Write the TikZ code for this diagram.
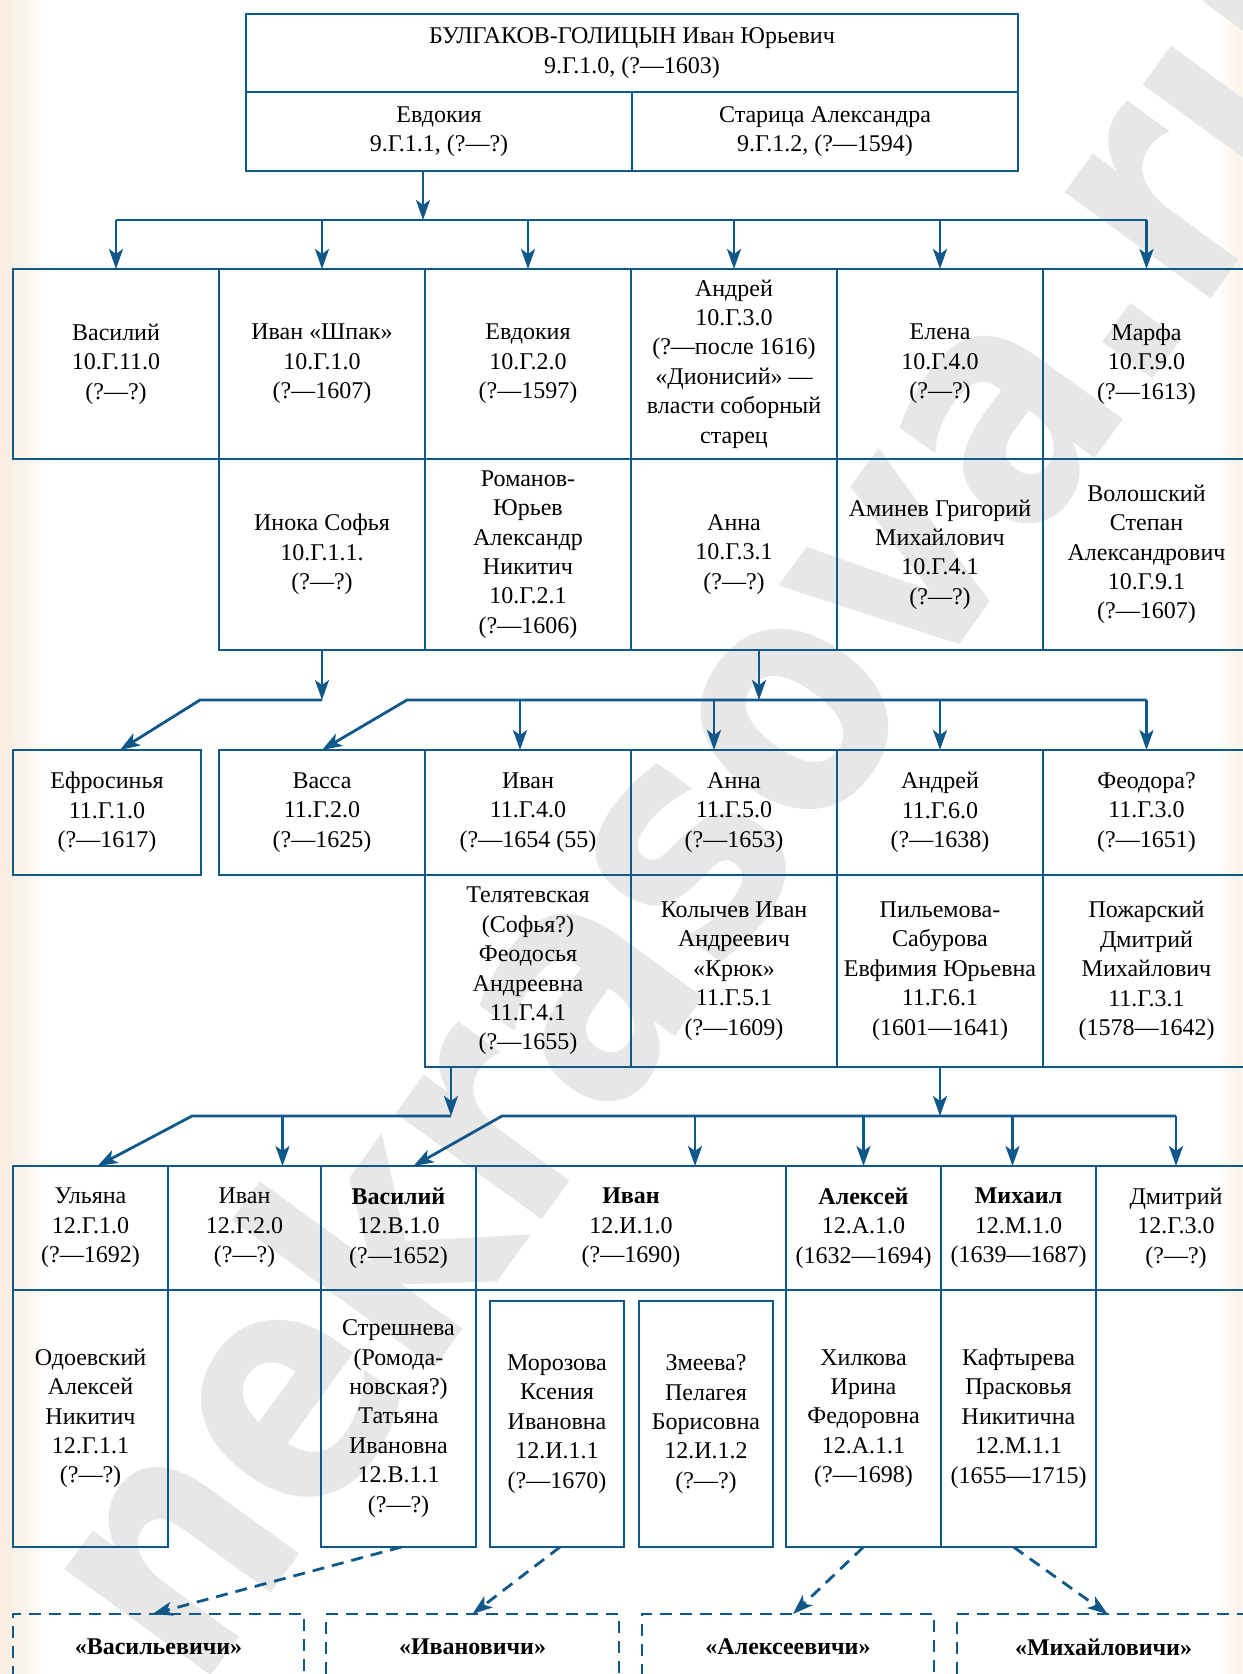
\documentclass[tikz,border=0pt]{standalone}
\usepackage{fontspec}
\setmainfont{Liberation Serif}
\newfontfamily\wmfont{DejaVu Sans}
\usetikzlibrary{arrows.meta,calc}
\definecolor{lblue}{RGB}{16,88,138}
\definecolor{beige}{RGB}{250,236,222}
\definecolor{wmgray}{RGB}{231,231,231}
\def\mkcell#1#2#3#4#5#6#7{\node[#1,minimum width={(#5-#3)*0.5pt},minimum height={(#6-#4)*0.5pt}] (#2) at ({(#3+#5)/2},{(#4+#6)/2}) {#7};}
\begin{document}
\begin{tikzpicture}[x=0.5pt,y=-0.5pt,
  ln/.style={draw=lblue,line width=1.4pt},
  arr/.style={ln,-{Stealth[length=10pt,width=7pt,inset=2.5pt]}},
  darr/.style={arr,dash pattern=on 6pt off 4pt},
  cell/.style={ln,rectangle,inner sep=0pt,outer sep=0pt,align=center,font=\fontsize{12}{14.7}\selectfont},
  dcell/.style={cell,dash pattern=on 6pt off 4pt,font=\fontsize{12}{14.7}\selectfont\bfseries},
]
\useasboundingbox (0,0) rectangle (1242,1674);
\fill[white] (0,0) rectangle (1242,1674);
\shade[left color=beige,right color=white] (0,0) rectangle (50,1674);
\shade[left color=white,right color=beige!70] (1215,0) rectangle (1242,1674);
\node[rotate=54,xscale=0.83,text=wmgray,font=\wmfont\bfseries\fontsize{165}{165}\selectfont,inner sep=0pt] (wm) at (695,800) {nekrasova.ru};

% generation 9
\mkcell{cell}{root}{246}{14}{1018}{92}{БУЛГАКОВ-ГОЛИЦЫН Иван Юрьевич\\9.Г.1.0, (?—1603)}
\mkcell{cell}{evd9}{246}{92}{632}{171}{Евдокия\\9.Г.1.1, (?—?)}
\mkcell{cell}{alx9}{632}{92}{1018}{171}{Старица Александра\\9.Г.1.2, (?—1594)}

% generation 10
\mkcell{cell}{g10a}{13}{269}{219}{459}{Василий\\10.Г.11.0\\(?—?)}
\mkcell{cell}{g10b}{219}{269}{425}{459}{Иван «Шпак»\\10.Г.1.0\\(?—1607)}
\mkcell{cell}{g10c}{425}{269}{631}{459}{Евдокия\\10.Г.2.0\\(?—1597)}
\mkcell{cell}{g10d}{631}{269}{837}{459}{Андрей\\10.Г.3.0\\(?—после 1616)\\«Дионисий» —\\власти соборный\\старец}
\mkcell{cell}{g10e}{837}{269}{1043}{459}{Елена\\10.Г.4.0\\(?—?)}
\mkcell{cell}{g10f}{1043}{269}{1250}{459}{Марфа\\10.Г.9.0\\(?—1613)}
\mkcell{cell}{s10b}{219}{459}{425}{650}{Инока Софья\\10.Г.1.1.\\(?—?)}
\mkcell{cell}{s10c}{425}{459}{631}{650}{Романов-\\Юрьев\\Александр\\Никитич\\10.Г.2.1\\(?—1606)}
\mkcell{cell}{s10d}{631}{459}{837}{650}{Анна\\10.Г.3.1\\(?—?)}
\mkcell{cell}{s10e}{837}{459}{1043}{650}{Аминев Григорий\\Михайлович\\10.Г.4.1\\(?—?)}
\mkcell{cell}{s10f}{1043}{459}{1250}{650}{Волошский\\Степан\\Александрович\\10.Г.9.1\\(?—1607)}

% generation 11
\mkcell{cell}{g11a}{13}{750}{201}{875}{Ефросинья\\11.Г.1.0\\(?—1617)}
\mkcell{cell}{g11b}{219}{750}{425}{875}{Васса\\11.Г.2.0\\(?—1625)}
\mkcell{cell}{g11c}{425}{750}{631}{875}{Иван\\11.Г.4.0\\(?—1654 (55)}
\mkcell{cell}{g11d}{631}{750}{837}{875}{Анна\\11.Г.5.0\\(?—1653)}
\mkcell{cell}{g11e}{837}{750}{1043}{875}{Андрей\\11.Г.6.0\\(?—1638)}
\mkcell{cell}{g11f}{1043}{750}{1250}{875}{Феодора?\\11.Г.3.0\\(?—1651)}
\mkcell{cell}{s11c}{425}{875}{631}{1067}{Телятевская\\(Софья?)\\Феодосья\\Андреевна\\11.Г.4.1\\(?—1655)}
\mkcell{cell}{s11d}{631}{875}{837}{1067}{Колычев Иван\\Андреевич\\«Крюк»\\11.Г.5.1\\(?—1609)}
\mkcell{cell}{s11e}{837}{875}{1043}{1067}{Пильемова-\\Сабурова\\Евфимия Юрьевна\\11.Г.6.1\\(1601—1641)}
\mkcell{cell}{s11f}{1043}{875}{1250}{1067}{Пожарский\\Дмитрий\\Михайлович\\11.Г.3.1\\(1578—1642)}

% generation 12
\mkcell{cell}{g12a}{13}{1166}{168}{1290}{Ульяна\\12.Г.1.0\\(?—1692)}
\mkcell{cell}{g12b}{168}{1166}{321}{1290}{Иван\\12.Г.2.0\\(?—?)}
\mkcell{cell}{g12c}{321}{1166}{476}{1290}{\textbf{Василий}\\12.В.1.0\\(?—1652)}
\mkcell{cell}{g12d}{476}{1166}{786}{1290}{\textbf{Иван}\\12.И.1.0\\(?—1690)}
\mkcell{cell}{g12e}{786}{1166}{941}{1290}{\textbf{Алексей}\\12.А.1.0\\(1632—1694)}
\mkcell{cell}{g12f}{941}{1166}{1096}{1290}{\textbf{Михаил}\\12.М.1.0\\(1639—1687)}
\mkcell{cell}{g12g}{1096}{1166}{1256}{1290}{Дмитрий\\12.Г.3.0\\(?—?)}
\mkcell{cell}{s12a}{13}{1290}{168}{1547}{Одоевский\\Алексей\\Никитич\\12.Г.1.1\\(?—?)}
\mkcell{cell}{s12c}{321}{1290}{476}{1547}{Стрешнева\\(Ромода-\\новская?)\\Татьяна\\Ивановна\\12.В.1.1\\(?—?)}
\mkcell{cell}{s12d1}{490}{1301}{624}{1547}{Морозова\\Ксения\\Ивановна\\12.И.1.1\\(?—1670)}
\mkcell{cell}{s12d2}{639}{1301}{773}{1547}{Змеева?\\Пелагея\\Борисовна\\12.И.1.2\\(?—?)}
\mkcell{cell}{s12e}{786}{1290}{941}{1547}{Хилкова\\Ирина\\Федоровна\\12.А.1.1\\(?—1698)}
\mkcell{cell}{s12f}{941}{1290}{1096}{1547}{Кафтырева\\Прасковья\\Никитична\\12.М.1.1\\(1655—1715)}

% branches
\mkcell{dcell}{d1}{13}{1614}{304}{1680}{«Васильевичи»}
\mkcell{dcell}{d2}{326}{1614}{619}{1680}{«Ивановичи»}
\mkcell{dcell}{d3}{642}{1614}{934}{1680}{«Алексеевичи»}
\mkcell{dcell}{d4}{957}{1614}{1250}{1680}{«Михайловичи»}

% connectors 9 -> 10
\coordinate (b1) at (423,220);
\draw[arr] (evd9.south -| b1) -- (b1);
\draw[ln] (g10a.north |- b1) -- (g10f.north |- b1);
\foreach \n in {g10a,g10b,g10c,g10d,g10e,g10f} \draw[arr] (\n.north |- b1) -- (\n.north);

% connectors 10 -> 11
\coordinate (k1) at (200,700);
\draw[arr] (s10b.south) -- (s10b.south |- k1);
\draw[arr] (s10b.south |- k1) -- (k1) -- ($(g11a.north)+(13,0)$);
\coordinate (k2) at (759,700);
\coordinate (k3) at (407,700);
\draw[arr] (s10d.south -| k2) -- (k2);
\draw[arr] (g11f.north |- k3) -- (k3) -- (g11b.north);
\coordinate (a11c) at ($(g11c.north)+(-8,0)$);
\coordinate (a11d) at ($(g11d.north)+(-20,0)$);
\draw[arr] (a11c |- k3) -- (a11c);
\draw[arr] (a11d |- k3) -- (a11d);
\draw[arr] (g11e.north |- k3) -- (g11e.north);
\draw[arr] (g11f.north |- k3) -- (g11f.north);

% connectors 11 -> 12
\coordinate (k4) at (451,1116);
\coordinate (k5) at (192,1116);
\draw[arr] (s11c.south -| k4) -- (k4);
\draw[arr] (k4) -- (k5) -- ($(g12a.north)+(7,0)$);
\coordinate (a12b) at ($(g12b.north)+(38,0)$);
\draw[arr] (a12b |- k4) -- (a12b);
\coordinate (k6) at (502,1116);
\draw[arr] (s11e.south) -- (s11e.south |- k6);
\draw[arr] (g12g.north |- k6) -- (k6) -- ($(g12c.north)+(15,0)$);
\coordinate (a12d) at ($(g12d.north)+(64,0)$);
\coordinate (a12f) at ($(g12f.north)+(-6,0)$);
\draw[arr] (a12d |- k6) -- (a12d);
\draw[arr] (g12e.north |- k6) -- (g12e.north);
\draw[arr] (a12f |- k6) -- (a12f);
\draw[arr] (g12g.north |- k6) -- (g12g.north);

% dashed links to branches
\draw[darr] ($(s12c.south)+(3,0)$) -- ($(d1.north)+(-6,0)$);
\draw[darr] ($(s12d1.south)+(3,0)$) -- (d2.north);
\draw[darr] (s12e.south) -- ($(d3.north)+(5,0)$);
\draw[darr] ($(s12f.south)+(-5,0)$) -- ($(d4.north)+(4,0)$);
\end{tikzpicture}
\end{document}
